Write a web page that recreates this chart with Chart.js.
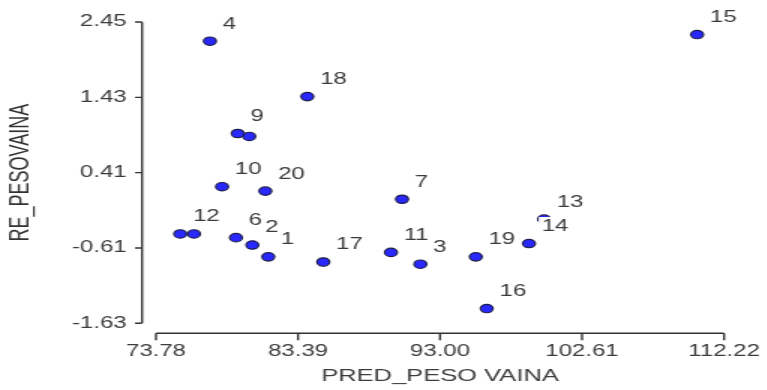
<!DOCTYPE html>
<html>
<head>
<meta charset="utf-8">
<script src="https://cdn.jsdelivr.net/npm/chart.js@4.4.1/dist/chart.umd.min.js"></script>
<style>
  html, body { margin: 0; padding: 0; background: #fff; overflow: hidden; }
  /* the original picture is a chart stretched sideways by 1.5 */
  #wrap { width: 511.33px; height: 390px; transform: scaleX(1.5); transform-origin: 0 0; }
</style>
</head>
<body>
<div id="wrap"><canvas id="my-chart"></canvas></div>
<script>
let caseIds = [1, 2, 3, 4, 5, 6, 7, 8, 9, 10, 11, 12, 13, 14, 15, 16, 17, 18, 19, 20];
let predPeso = [81.38, 80.30, 91.67, 77.43, 80.09, 79.19, 90.43, 76.35, 79.31, 78.25,
                89.68, 75.42, 100.04, 99.02, 110.40, 96.16, 85.10, 84.02, 95.42, 81.18];
let resPeso = [-0.73, -0.57, -0.83, 2.19, 0.90, -0.47, 0.05, -0.42, 0.94, 0.22,
               -0.67, -0.42, -0.22, -0.55, 2.28, -1.43, -0.80, 1.44, -0.73, 0.16];
let hiddenIds = [5, 8]; // labels not shown in the picture
let xTicks = [73.78, 83.39, 93.00, 102.61, 112.22];
let yTicks = [-1.63, -0.61, 0.41, 1.43, 2.45];

const textColor = '#3c3c3c';
const fontFamily = '"Liberation Sans", Arial, sans-serif';

// axis lines drawn apart from the plot, like the SPSS output
const axisFrame = {
    id: 'axisFrame',
    afterDraw(chart) {
        const { ctx, scales: { x, y } } = chart;
        const lineX = x.left - 9.3;
        const lineY = y.bottom + 10;
        ctx.save();
        ctx.strokeStyle = '#333';
        ctx.lineWidth = 1.4;
        ctx.beginPath();
        ctx.moveTo(lineX, y.getPixelForValue(yTicks[yTicks.length - 1]));
        ctx.lineTo(lineX, y.getPixelForValue(yTicks[0]));
        yTicks.forEach(v => {
            let p = y.getPixelForValue(v);
            ctx.moveTo(lineX - 4.7, p);
            ctx.lineTo(lineX, p);
        });
        ctx.moveTo(x.getPixelForValue(xTicks[0]), lineY);
        ctx.lineTo(x.getPixelForValue(xTicks[xTicks.length - 1]), lineY);
        xTicks.forEach(v => {
            let p = x.getPixelForValue(v);
            ctx.moveTo(p, lineY);
            ctx.lineTo(p, lineY + 7);
        });
        ctx.stroke();
        ctx.restore();
    }
};

const caseLabels = {
    id: 'caseLabels',
    afterDatasetsDraw(chart) {
        const ctx = chart.ctx;
        const meta = chart.getDatasetMeta(0);
        ctx.save();
        ctx.font = '16px ' + fontFamily;
        ctx.textBaseline = 'middle';
        ctx.textAlign = 'left';
        meta.data.forEach((pt, i) => {
            if (hiddenIds.includes(caseIds[i])) return;
            let txt = String(caseIds[i]);
            let tx = pt.x + 8.5;
            let ty = pt.y - 17;
            let w = ctx.measureText(txt).width;
            // white box behind the label, it hides what lies under it
            ctx.fillStyle = '#fff';
            ctx.fillRect(tx - 2, ty - 9.5, w + 4, 19);
            ctx.fillStyle = textColor;
            ctx.fillText(txt, tx, ty);
        });
        ctx.restore();
    }
};

let points = predPeso.map((v, i) => ({ x: v, y: resPeso[i] }));

new Chart('my-chart', {
    type: 'scatter',
    data: {
        datasets: [
            {
                label: 'RE_PESOVAINA',
                data: points,
                backgroundColor: 'rgb(40,40,255)',
                borderColor: '#1e1e4a',
                borderWidth: 1.2,
                pointRadius: 4.2,
                pointHoverRadius: 4.2
            }
        ]
    },
    options: {
        responsive: true,
        maintainAspectRatio: false,
        animation: false,
        events: [],
        layout: { padding: { top: 22, right: 28.6, bottom: 0, left: 0 } },
        plugins: {
            legend: { display: false },
            tooltip: { enabled: false }
        },
        scales: {
            x: {
                type: 'linear',
                min: xTicks[0],
                max: xTicks[xTicks.length - 1],
                grid: { display: false, drawTicks: false },
                border: { display: false },
                afterBuildTicks: s => { s.ticks = xTicks.map(v => ({ value: v })); },
                afterFit: s => {
                    s.height = 66.7;
                    s.paddingLeft = 0;
                    s.paddingRight = 0;
                },
                ticks: {
                    maxRotation: 0,
                    padding: 19,
                    color: textColor,
                    font: { family: fontFamily, size: 16 },
                    callback: v => Number(v).toFixed(2)
                },
                title: {
                    display: true,
                    text: 'PRED_PESO VAINA',
                    color: textColor,
                    font: { family: fontFamily, size: 17 },
                    padding: { top: 0, bottom: 3 }
                }
            },
            y: {
                type: 'linear',
                min: yTicks[0],
                max: yTicks[yTicks.length - 1],
                grid: { display: false, drawTicks: false },
                border: { display: false },
                afterBuildTicks: s => { s.ticks = yTicks.map(v => ({ value: v })); },
                afterFit: s => {
                    s.width = 104;
                    s.paddingTop = 0;
                    s.paddingBottom = 0;
                },
                ticks: {
                    padding: 19.5,
                    color: textColor,
                    font: { family: fontFamily, size: 16 },
                    callback: v => Number(v).toFixed(2)
                },
                title: {
                    display: true,
                    text: 'RE_PESOVAINA',
                    color: '#333',
                    font: { family: fontFamily, size: 18 },
                    padding: { top: 3, bottom: 0 }
                }
            }
        }
    },
    plugins: [axisFrame, caseLabels]
});
</script>
</body>
</html>
